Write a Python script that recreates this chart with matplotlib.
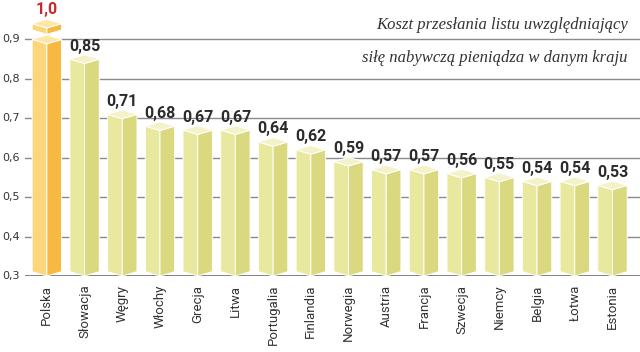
import matplotlib.pyplot as plt
from matplotlib.patches import Polygon

# dane
kraje = ["Polska", "Słowacja", "Węgry", "Włochy", "Grecja", "Litwa", "Portugalia",
         "Finlandia", "Norwegia", "Austria", "Francja", "Szwecja", "Niemcy",
         "Belgia", "Łotwa", "Estonia"]
wartosci = [1.0, 0.85, 0.71, 0.68, 0.67, 0.67, 0.64, 0.62, 0.59, 0.57, 0.57,
            0.56, 0.55, 0.54, 0.54, 0.53]
etykiety = ["1,0", "0,85", "0,71", "0,68", "0,67", "0,67", "0,64", "0,62", "0,59",
            "0,57", "0,57", "0,56", "0,55", "0,54", "0,54", "0,53"]
yticks = [0.3, 0.4, 0.5, 0.6, 0.7, 0.8, 0.9]
ytick_labels = ["0,3", "0,4", "0,5", "0,6", "0,7", "0,8", "0,9"]

baza = 0.3
obciecie = 0.9  # słupek Polski jest "ucięty"
w = 0.39  # pół szerokości słupka
d = 0.011  # skos górnej ściany

fig = plt.figure(figsize=(6.4, 3.52), dpi=100)
ax = fig.add_axes([25 / 640, 1 - 276 / 352, 615 / 640, 276 / 352])
ax.set_xlim(-0.58, 15.73)
ax.set_ylim(0.3, 1.0)
ax.axis("off")

# siatka
for y in yticks[1:]:
    ax.axhline(y, color="#8a8a8a", lw=1.0, zorder=1)
ax.axhline(baza, color="#6e6e6e", lw=1.2, zorder=1)
for y, lab in zip(yticks, ytick_labels):
    ax.text(-0.72, y, lab, ha="right", va="center", fontsize=8,
            color="#333333", clip_on=False)


def slupek(x, dol, gora, c_lewy, c_prawy, c_gora):
    lewy = [(x - w, dol + d), (x - w, gora), (x, gora - d), (x, dol)]
    prawy = [(x, dol), (x, gora - d), (x + w, gora), (x + w, dol + d)]
    wierzch = [(x - w, gora), (x, gora - d), (x + w, gora), (x, gora + d)]
    for pts, c in [(lewy, c_lewy), (prawy, c_prawy), (wierzch, c_gora)]:
        ax.add_patch(Polygon(pts, closed=True, facecolor=c, edgecolor="white",
                             lw=0.7, zorder=3))


for i, (v, lab) in enumerate(zip(wartosci, etykiety)):
    if i == 0:
        slupek(i, baza, obciecie, "#fdd57a", "#f7b941", "#fee7a6")
        slupek(i, 0.913, 0.94, "#fdd57a", "#f7b941", "#fee7a6")
        ax.text(i, 0.976, lab, ha="center", va="center", fontsize=11.5,
                fontweight="bold", family="Roboto", color="#c8282d", zorder=4)
    else:
        slupek(i, baza, v, "#e9e89f", "#dad97f", "#f3f2c9")
        ax.text(i, v + 0.033, lab, ha="center", va="center", fontsize=11.5,
                fontweight="bold", family="Roboto", color="#2b2b2b", zorder=4)
    ax.text(i, 0.278, kraje[i], rotation=90, ha="center", va="top",
            fontsize=9.5, family="Roboto", color="#333333", clip_on=False)

# opis
fig.text(628 / 640, 1 - 25 / 352, "Koszt przesłania listu uwzględniający",
         ha="right", va="center", fontsize=12, style="italic",
         family="Liberation Serif", color="#333333")
fig.text(628 / 640, 1 - 58 / 352, "siłę nabywczą pieniądza w danym kraju",
         ha="right", va="center", fontsize=12, style="italic",
         family="Liberation Serif", color="#333333")

fig.savefig("out.png", dpi=100)
